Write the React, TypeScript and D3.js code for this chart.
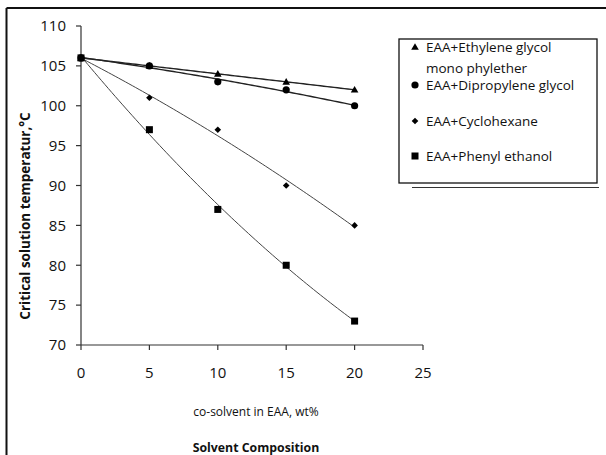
import React from "react";
import * as d3 from "d3";

// co-solvent content in EAA, wt%
const cosolvent = [0, 5, 10, 15, 20];

// Critical solution temperature (°C) for each co-solvent
const ethyleneGlycolEther = [106, 105, 104, 103, 102];
const dipropyleneGlycol = [106, 105, 103, 102, 100];
const cyclohexane = [106, 101, 97, 90, 85];
const phenylEthanol = [106, 97, 87, 80, 73];

const xTicks = [0, 5, 10, 15, 20, 25];
const yTicks = [70, 75, 80, 85, 90, 95, 100, 105, 110];

const seriesNames = [
  ["EAA+Ethylene glycol", "mono phylether"],
  ["EAA+Dipropylene glycol"],
  ["EAA+Cyclohexane"],
  ["EAA+Phenyl ethanol"],
];

type Shape = "triangle" | "circle" | "diamond" | "square";

const series: { values: number[]; shape: Shape; stroke: string; width: number }[] = [
  { values: ethyleneGlycolEther, shape: "triangle", stroke: "#222", width: 1.4 },
  { values: dipropyleneGlycol, shape: "circle", stroke: "#222", width: 1.4 },
  { values: cyclohexane, shape: "diamond", stroke: "#444", width: 1 },
  { values: phenylEthanol, shape: "square", stroke: "#444", width: 1 },
];

// Second-order least-squares trendline through (xs, ys)
function quadFit(xs: number[], ys: number[]) {
  const n = xs.length;
  let s1 = 0, s2 = 0, s3 = 0, s4 = 0, sy = 0, sxy = 0, sx2y = 0;
  for (let i = 0; i < n; i++) {
    const x = xs[i], y = ys[i];
    s1 += x; s2 += x * x; s3 += x * x * x; s4 += x * x * x * x;
    sy += y; sxy += x * y; sx2y += x * x * y;
  }
  const M = [
    [n, s1, s2, sy],
    [s1, s2, s3, sxy],
    [s2, s3, s4, sx2y],
  ];
  for (let c = 0; c < 3; c++) {
    for (let r = c + 1; r < 3; r++) {
      const f = M[r][c] / M[c][c];
      for (let k = c; k < 4; k++) M[r][k] -= f * M[c][k];
    }
  }
  const coef = [0, 0, 0];
  for (let r = 2; r >= 0; r--) {
    let s = M[r][3];
    for (let k = r + 1; k < 3; k++) s -= M[r][k] * coef[k];
    coef[r] = s / M[r][r];
  }
  return (x: number) => coef[0] + coef[1] * x + coef[2] * x * x;
}

function Marker({ shape, cx, cy }: { shape: Shape; cx: number; cy: number }) {
  if (shape === "circle") return <circle cx={cx} cy={cy} r={3.6} fill="#000" />;
  if (shape === "square") return <rect x={cx - 3.5} y={cy - 3.5} width={7} height={7} fill="#000" />;
  if (shape === "diamond")
    return <path d={`M${cx},${cy - 3.3}L${cx + 3.3},${cy}L${cx},${cy + 3.3}L${cx - 3.3},${cy}Z`} fill="#000" />;
  return <path d={`M${cx},${cy - 3.8}L${cx + 3.8},${cy + 2.8}L${cx - 3.8},${cy + 2.8}Z`} fill="#000" />;
}

export default function App() {
  const W = 606, H = 455;
  const x = d3.scaleLinear().domain([0, 25]).range([81, 423]);
  const y = d3.scaleLinear().domain([70, 110]).range([345, 26]);
  const font = "'Open Sans', 'DejaVu Sans', sans-serif";

  const samples = d3.range(0, 20.001, 0.25);
  const line = d3
    .line<[number, number]>()
    .x((d) => x(d[0]))
    .y((d) => y(d[1]));

  // legend row centres (first entry wraps onto a second line)
  const legendRows = [47, 85, 121, 156];
  const wrapGap = 21;

  return (
    <svg
      width={W}
      height={H}
      style={{ position: "absolute", left: 0, top: 0, background: "#fff" }}
      fontFamily={font}
    >
      <rect x={0} y={0} width={W} height={H} fill="#fff" />
      {/* chart frame */}
      <line x1={6.5} y1={8} x2={W} y2={8} stroke="#111" strokeWidth={2} />
      <line x1={6.5} y1={8} x2={6.5} y2={H} stroke="#111" strokeWidth={2} />

      {/* y axis */}
      <line x1={x(0)} y1={y(110)} x2={x(0)} y2={y(70)} stroke="#333" strokeWidth={1.2} />
      {yTicks.map((t) => (
        <g key={"y" + t}>
          <line x1={x(0) - 5} x2={x(0)} y1={y(t)} y2={y(t)} stroke="#333" strokeWidth={1.2} />
          <text x={66} y={y(t)} dy="0.35em" textAnchor="end" fontSize={15} fill="#111">
            {t}
          </text>
        </g>
      ))}

      {/* x axis */}
      <line x1={x(0)} y1={y(70)} x2={x(25)} y2={y(70)} stroke="#333" strokeWidth={1.2} />
      {xTicks.map((t) => (
        <g key={"x" + t}>
          <line x1={x(t)} x2={x(t)} y1={y(70)} y2={y(70) + 5} stroke="#333" strokeWidth={1.2} />
          <text x={x(t)} y={373} dy="0.35em" textAnchor="middle" fontSize={15} fill="#111">
            {t}
          </text>
        </g>
      ))}

      {/* trendlines */}
      {series.map((s, i) => {
        const f = quadFit(cosolvent, s.values);
        const pts = samples.map((v) => [v, f(v)] as [number, number]);
        return (
          <path key={"l" + i} d={line(pts) ?? ""} fill="none" stroke={s.stroke} strokeWidth={s.width} />
        );
      })}

      {/* data markers */}
      {series.map((s, i) =>
        s.values.map((v, j) => (
          <Marker key={`m${i}-${j}`} shape={s.shape} cx={x(cosolvent[j])} cy={y(v)} />
        ))
      )}

      {/* axis titles */}
      <text
        transform={`translate(25,${216}) rotate(-90)`}
        textAnchor="middle"
        dy="0.35em"
        fontSize={13.5}
        fontWeight="bold"
        fill="#111"
      >
        Critical solution temperatur,°C
      </text>
      <text x={256} y={412} dy="0.35em" textAnchor="middle" fontSize={12} fill="#111">
        co-solvent in EAA, wt%
      </text>
      <text x={256} y={448} dy="0.35em" textAnchor="middle" fontSize={12.3} fontWeight="bold" fill="#111">
        Solvent Composition
      </text>

      {/* legend */}
      <rect x={399} y={39} width={198} height={144} fill="#fff" stroke="#111" strokeWidth={1.3} />
      <line x1={412} y1={187.5} x2={599} y2={187.5} stroke="#333" strokeWidth={1} />
      {series.map((s, i) => (
        <g key={"lg" + i}>
          <Marker shape={s.shape} cx={415} cy={legendRows[i]} />
          {seriesNames[i].map((t, k) => (
            <text
              key={k}
              x={426}
              y={legendRows[i] + k * wrapGap}
              dy="0.35em"
              fontSize={13.5}
              fill="#111"
            >
              {t}
            </text>
          ))}
        </g>
      ))}
    </svg>
  );
}
